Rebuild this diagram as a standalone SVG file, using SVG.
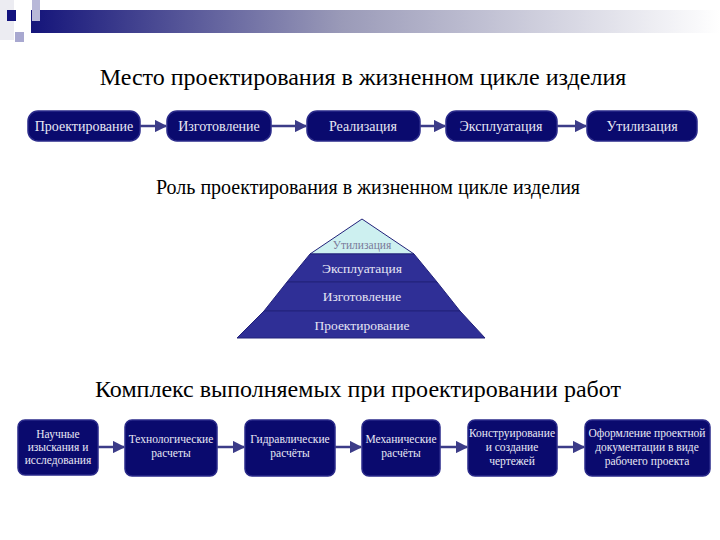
<svg xmlns="http://www.w3.org/2000/svg" width="720" height="540" viewBox="0 0 720 540" font-family="'Liberation Serif', 'Times New Roman', 'DejaVu Serif', serif">
<defs>
<linearGradient id="bar" x1="0" y1="0" x2="1" y2="0">
<stop offset="0" stop-color="#14147a"/>
<stop offset="0.45" stop-color="#9a9ab8"/>
<stop offset="1" stop-color="#ffffff"/>
</linearGradient>
<marker id="ah" viewBox="0 0 10 10" refX="9" refY="5" markerWidth="5" markerHeight="5" orient="auto">
<path d="M0,0 L10,5 L0,10 z" fill="#3c3c88"/>
</marker>
<style>
text{font-family:'Liberation Serif','Times New Roman','DejaVu Serif',serif}
.title{fill:#000;text-anchor:middle}
.box{fill:#0a0a6e;stroke:#2a2a8a;stroke-width:1.5}
.bt{fill:#e8e8f4;text-anchor:middle;font-size:14px}
.st{fill:#e8e8f4;text-anchor:middle;font-size:11.5px}
.pl{fill:#2f2f96;stroke:#22227a;stroke-width:1}
.pt{fill:#e4e4f4;text-anchor:middle;font-size:13.5px}
.con{stroke:#3c3c88;stroke-width:2.5;fill:none;marker-end:url(#ah)}
</style>
</defs>
<rect width="720" height="540" fill="#ffffff"/>
<g id="decor">
<rect x="0" y="0" width="14" height="40" fill="#ececf2"/>
<rect x="31" y="10" width="689" height="23" fill="url(#bar)"/>
<rect x="32" y="0" width="8" height="21" fill="#b8b8d8"/>
<rect x="7" y="10" width="9" height="11" fill="#12127e"/>
<rect x="15" y="32" width="9" height="10" fill="#a8a8d0"/>
</g>
<text class="title" x="363" y="85" font-size="24">Место проектирования в жизненном цикле изделия</text>
<g id="row1">
<g id="n1"><rect class="box" x="28" y="111" width="112" height="30" rx="10"/><text class="bt" x="84" y="131">Проектирование</text></g>
<g id="n2"><rect class="box" x="167" y="111" width="104" height="30" rx="10"/><text class="bt" x="219" y="131">Изготовление</text></g>
<g id="n3"><rect class="box" x="307" y="111" width="113" height="30" rx="10"/><text class="bt" x="363" y="131">Реализация</text></g>
<g id="n4"><rect class="box" x="446" y="111" width="111" height="30" rx="10"/><text class="bt" x="501" y="131">Эксплуатация</text></g>
<g id="n5"><rect class="box" x="587" y="111" width="110" height="30" rx="10"/><text class="bt" x="642" y="131">Утилизация</text></g>
</g>
<text class="title" x="368" y="194" font-size="20">Роль проектирования в жизненном цикле изделия</text>
<g id="pyramid">
<polygon points="362,219 310,254 414,254" fill="#cdf0f0" stroke="#22227a" stroke-width="1"/>
<polygon class="pl" points="310,254 414,254 437,282 287,282"/>
<polygon class="pl" points="287,282 437,282 460,311 264,311"/>
<polygon class="pl" points="264,311 460,311 485,338 237,338"/>
<text x="362" y="249" text-anchor="middle" font-size="11.5" fill="#7a7a9a">Утилизация</text>
<text class="pt" x="362" y="273">Эксплуатация</text>
<text class="pt" x="362" y="301">Изготовление</text>
<text class="pt" x="362" y="330">Проектирование</text>
</g>
<text class="title" x="358" y="397" font-size="24">Комплекс выполняемых при проектировании работ</text>
<g id="row2">
<g id="b1"><rect class="box" x="18" y="420" width="80" height="55" rx="7"/><text class="st" x="58" y="438">Научные</text><text class="st" x="58" y="451">изыскания и</text><text class="st" x="58" y="464">исследования</text></g>
<g id="b2"><rect class="box" x="125" y="420" width="92" height="56" rx="7"/><text class="st" x="171" y="443">Технологические</text><text class="st" x="171" y="457">расчеты</text></g>
<g id="b3"><rect class="box" x="245" y="420" width="90" height="56" rx="7"/><text class="st" x="290" y="443">Гидравлические</text><text class="st" x="290" y="457">расчёты</text></g>
<g id="b4"><rect class="box" x="362" y="420" width="78" height="56" rx="7"/><text class="st" x="401" y="443">Механические</text><text class="st" x="401" y="457">расчёты</text></g>
<g id="b5"><rect class="box" x="468" y="420" width="89" height="56" rx="7"/><text class="st" x="512" y="437">Конструирование</text><text class="st" x="512" y="451">и создание</text><text class="st" x="512" y="465">чертежей</text></g>
<g id="b6"><rect class="box" x="585" y="420" width="125" height="56" rx="7"/><text class="st" x="647" y="437">Оформление проектной</text><text class="st" x="647" y="451">документации в виде</text><text class="st" x="647" y="465">рабочего проекта</text></g>
</g>
<g id="connectors">
<line class="con" x1="140" y1="126" x2="166" y2="126"/>
<line class="con" x1="271" y1="126" x2="306" y2="126"/>
<line class="con" x1="420" y1="126" x2="445" y2="126"/>
<line class="con" x1="557" y1="126" x2="586" y2="126"/>
<line class="con" x1="98" y1="447" x2="124" y2="447"/>
<line class="con" x1="217" y1="447" x2="244" y2="447"/>
<line class="con" x1="335" y1="447" x2="361" y2="447"/>
<line class="con" x1="440" y1="447" x2="467" y2="447"/>
<line class="con" x1="557" y1="447" x2="584" y2="447"/>
</g>
</svg>
